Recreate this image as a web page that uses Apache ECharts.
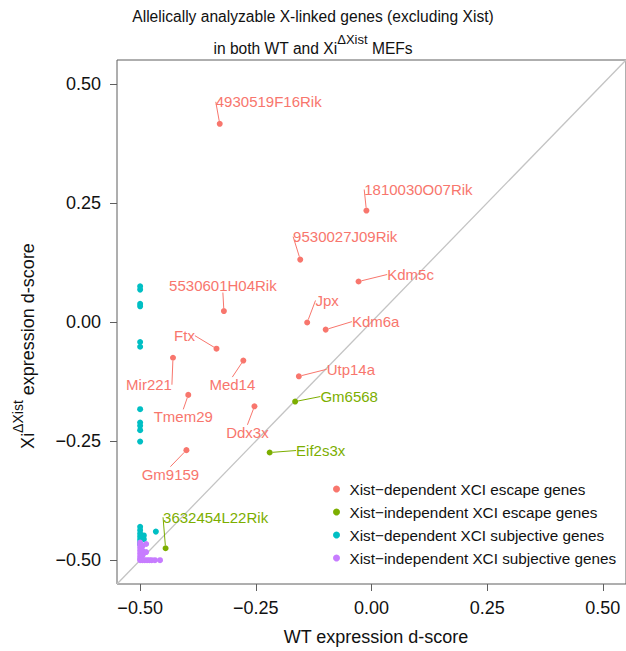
<!DOCTYPE html>
<html>
<head>
<meta charset="utf-8">
<script src="https://cdn.jsdelivr.net/npm/echarts@6/dist/echarts.min.js"></script>
<style>
  html, body { margin: 0; padding: 0; background: #fff; }
  #chart { width: 626px; height: 651px; }
</style>
</head>
<body>
<div id="chart"></div>
<script>
// Xist-dependent XCI escape genes (WT d-score, Xi-dXist d-score)
const depEscGenes = ['4930519F16Rik', '1810030O07Rik', '9530027J09Rik', 'Kdm5c', '5530601H04Rik', 'Jpx', 'Kdm6a',
  'Ftx', 'Mir221', 'Med14', 'Utp14a', 'Tmem29', 'Ddx3x', 'Gm9159'];
const depEscWT = [-0.328, -0.011, -0.154, -0.028, -0.319, -0.139, -0.099, -0.335, -0.429, -0.277, -0.157, -0.396, -0.253, -0.400];
const depEscXi = [0.416, 0.234, 0.131, 0.085, 0.023, -0.001, -0.016, -0.056, -0.075, -0.081, -0.114, -0.153, -0.177, -0.269];

// Xist-independent XCI escape genes
const indepEscGenes = ['Gm6568', 'Eif2s3x', '3632454L22Rik'];
const indepEscWT = [-0.165, -0.220, -0.445];
const indepEscXi = [-0.167, -0.274, -0.475];

// Xist-dependent XCI subjective genes
const depSubWT = [-0.5, -0.5, -0.5, -0.5, -0.5, -0.5, -0.5, -0.5, -0.5, -0.5, -0.5,
  -0.5, -0.5, -0.5, -0.5, -0.5, -0.5, -0.5, -0.492, -0.492, -0.466];
const depSubXi = [0.075, 0.068, 0.038, 0.033, -0.042, -0.052, -0.183, -0.211, -0.218, -0.227, -0.251,
  -0.430, -0.437, -0.444, -0.450, -0.456, -0.462, -0.467, -0.448, -0.456, -0.440];

// Xist-independent XCI subjective genes
const indepSubWT = [-0.5, -0.5, -0.5, -0.5, -0.5, -0.5, -0.5, -0.5, -0.495, -0.495, -0.495, -0.495,
  -0.487, -0.487, -0.490, -0.485, -0.480, -0.475, -0.468, -0.457];
const indepSubXi = [-0.463, -0.468, -0.474, -0.480, -0.486, -0.492, -0.497, -0.500, -0.470, -0.480, -0.490, -0.500,
  -0.466, -0.483, -0.500, -0.500, -0.500, -0.500, -0.500, -0.500];

const seriesNames = ['Xist\u2212dependent XCI escape genes', 'Xist\u2212independent XCI escape genes',
  'Xist\u2212dependent XCI subjective genes', 'Xist\u2212independent XCI subjective genes'];
const seriesColors = ['#F8766D', '#7CAE00', '#00BFC4', '#C77CFF'];
const tickValues = [-0.5, -0.25, 0, 0.25, 0.5];
const axisRange = [-0.55, 0.55];

// where each gene label sits relative to its point (pixels)
const labelShift = {
  '4930519F16Rik': [49, -22], '1810030O07Rik': [52, -21], '9530027J09Rik': [45, -23], 'Kdm5c': [52, -7],
  '5530601H04Rik': [-1, -26], 'Jpx': [20, -22], 'Kdm6a': [50, -8], 'Ftx': [-32, -13], 'Mir221': [-24, 27],
  'Med14': [-11, 24], 'Utp14a': [52, -7], 'Tmem29': [-5, 22], 'Ddx3x': [-7, 26], 'Gm9159': [-16, 24],
  'Gm6568': [54, -5], 'Eif2s3x': [51, -2], '3632454L22Rik': [50, -31]
};

const FONT = '"Liberation Sans", Arial, Helvetica, sans-serif';
const BOX = '#5f5f5f';

function pts (xs, ys, names) {
  return xs.map(function (x, i) {
    return names ? { name: names[i], value: [x, ys[i]] } : [x, ys[i]];
  });
}

function fmt (v) {
  return (v < 0 ? '\u2212' : '') + Math.abs(v).toFixed(2);
}

function axis (gap) {
  return {
    type: 'value',
    min: axisRange[0],
    max: axisRange[1],
    splitLine: { show: false },
    axisLine: { show: false, onZero: false },
    axisTick: { show: true, customValues: tickValues, length: 7, lineStyle: { color: BOX, width: 1 } },
    axisLabel: {
      customValues: tickValues,
      formatter: fmt,
      margin: gap,
      color: '#111',
      fontSize: 18,
      fontFamily: FONT
    }
  };
}

function scatter (idx, data, labelled) {
  const s = {
    name: seriesNames[idx],
    type: 'scatter',
    data: data,
    symbol: 'circle',
    symbolSize: 6,
    itemStyle: { color: seriesColors[idx], opacity: 1 },
    emphasis: { disabled: true }
  };
  if (labelled) {
    s.label = {
      show: true,
      position: 'inside',
      formatter: '{b}',
      color: seriesColors[idx],
      fontSize: 15,
      fontFamily: FONT
    };
    s.labelLine = { show: true, length2: 0, lineStyle: { color: seriesColors[idx], width: 1 } };
    s.labelLayout = function (p) {
      const d = labelShift[p.text] || [0, 0];
      return { dx: d[0], dy: d[1] };
    };
  }
  return s;
}

// superscript: the small token gets bottom padding, which lifts it by half of that
function supRich (main, sup, lift) {
  return {
    m: { fontSize: main, fontFamily: FONT, fill: '#111', lineHeight: main },
    s: { fontSize: sup, fontFamily: FONT, fill: '#111', lineHeight: sup, padding: [0, 0, lift * 2, 0] }
  };
}

const chart = echarts.init(document.getElementById('chart'), null, { renderer: 'svg' });

chart.setOption({
  animation: false,
  backgroundColor: '#fff',
  grid: { left: 117, top: 60, width: 536, height: 524, show: true, borderColor: BOX, borderWidth: 1, backgroundColor: 'transparent' },
  xAxis: axis(15),
  yAxis: axis(16),
  legend: {
    data: seriesNames,
    orient: 'vertical',
    left: 333,
    top: 481,
    padding: 0,
    itemGap: 7,
    itemWidth: 10,
    itemHeight: 7,
    icon: 'circle',
    selectedMode: false,
    textStyle: { fontSize: 15.3, fontFamily: FONT, color: '#111', lineHeight: 16, padding: [0, 0, 0, 3] }
  },
  graphic: [
    {
      type: 'text', x: 313, y: 16,
      style: { text: 'Allelically analyzable X-linked genes (excluding Xist)', font: '15.6px ' + FONT, fill: '#111', align: 'center', verticalAlign: 'middle' }
    },
    {
      type: 'text', x: 313, y: 48,
      style: { text: '{m|in both WT and Xi}{s|\u0394Xist}{m| MEFs}', rich: supRich(15.6, 13, 9), align: 'center', verticalAlign: 'middle' }
    },
    {
      type: 'text', x: 376, y: 637,
      style: { text: 'WT expression d-score', font: '18px ' + FONT, fill: '#111', align: 'center', verticalAlign: 'middle' }
    },
    {
      type: 'text', x: 28, y: 346, rotation: Math.PI / 2,
      style: { text: '{m|Xi}{s|\u0394Xist}{m| expression d-score}', rich: supRich(18, 14, 10), align: 'center', verticalAlign: 'middle' }
    }
  ],
  series: [
    scatter(0, pts(depEscWT, depEscXi, depEscGenes), true),
    scatter(1, pts(indepEscWT, indepEscXi, indepEscGenes), true),
    scatter(2, pts(depSubWT, depSubXi)),
    scatter(3, pts(indepSubWT, indepSubXi)),
    {
      type: 'line',
      data: [[axisRange[0], axisRange[0]], [axisRange[1], axisRange[1]]],
      symbol: 'none',
      silent: true,
      z: 1,
      lineStyle: { color: '#c4c4c4', width: 1.3 }
    }
  ]
});
</script>
</body>
</html>
